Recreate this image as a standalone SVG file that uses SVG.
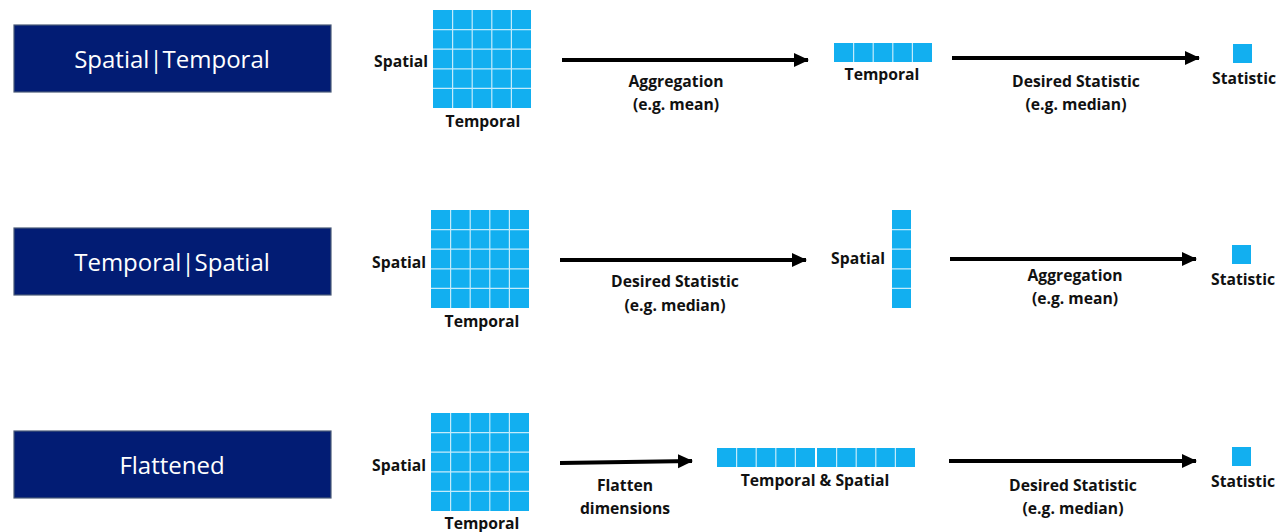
<svg xmlns="http://www.w3.org/2000/svg" xmlns:xlink="http://www.w3.org/1999/xlink" width="1276" height="532" viewBox="0 0 1276 532">
<style>
.box{fill:#021c74;stroke:#4a5a78;stroke-width:1.2}
.title{font-family:"Open Sans","Liberation Sans",sans-serif;font-size:24px;fill:#ffffff;text-anchor:middle}
.lbl{font-family:"Open Sans","Liberation Sans",sans-serif;font-weight:bold;font-size:15.7px;fill:#111111}
.c{text-anchor:middle}
.r{text-anchor:end}
.cell{fill:#12aff0}
.gl{stroke:#ffffff;stroke-width:1.2;opacity:0.75}
.arr{stroke:#000000;stroke-width:4;fill:none;marker-end:url(#ah)}
</style>
<defs>
<marker id="ah" markerUnits="userSpaceOnUse" markerWidth="16" markerHeight="16" refX="14" refY="8" orient="auto">
<path d="M0,1 L15,8 L0,15 Z" fill="#000"/>
</marker>
<g id="grid">
<rect class="cell" x="0" y="0" width="98" height="98"/>
<path class="gl" d="M19.6,0V98M39.2,0V98M58.8,0V98M78.4,0V98M0,19.6H98M0,39.2H98M0,58.8H98M0,78.4H98"/>
</g>
<g id="hstrip">
<rect class="cell" x="0" y="0" width="98" height="19"/>
<path class="gl" d="M19.6,0V19M39.2,0V19M58.8,0V19M78.4,0V19"/>
</g>
<g id="vstrip">
<rect class="cell" x="0" y="0" width="19" height="98"/>
<path class="gl" d="M0,19.6H19M0,39.2H19M0,58.8H19M0,78.4H19"/>
</g>
</defs>
<rect width="1276" height="532" fill="#ffffff"/>

<g id="connectors">
<line class="arr" x1="562" y1="60" x2="808" y2="60"/>
<line class="arr" x1="952" y1="58" x2="1199" y2="58"/>
<line class="arr" x1="560" y1="260" x2="806" y2="260"/>
<line class="arr" x1="950" y1="259" x2="1196" y2="259"/>
<line class="arr" x1="560" y1="463" x2="692" y2="461"/>
<line class="arr" x1="949" y1="461" x2="1196" y2="461"/>
</g>

<g id="row1-title">
<rect class="box" x="14" y="25" width="317" height="67"/>
<text class="title" x="172" y="68">Spatial|Temporal</text>
</g>
<g id="row1-grid">
<use xlink:href="#grid" x="433" y="10"/>
<text class="lbl r" x="428" y="67">Spatial</text>
<text class="lbl c" x="483" y="127">Temporal</text>
</g>
<g id="row1-agg-label">
<text class="lbl c" x="676" y="87">Aggregation</text>
<text class="lbl c" x="676" y="110">(e.g. mean)</text>
</g>
<g id="row1-temporal">
<use xlink:href="#hstrip" x="834" y="43"/>
<text class="lbl c" x="882" y="80">Temporal</text>
</g>
<g id="row1-stat-label">
<text class="lbl c" x="1076" y="87">Desired Statistic</text>
<text class="lbl c" x="1076" y="110">(e.g. median)</text>
</g>
<g id="row1-statistic">
<rect class="cell" x="1233" y="44" width="19" height="19"/>
<text class="lbl c" x="1244" y="84">Statistic</text>
</g>

<g id="row2-title">
<rect class="box" x="14" y="228" width="317" height="67"/>
<text class="title" x="172" y="271">Temporal|Spatial</text>
</g>
<g id="row2-grid">
<use xlink:href="#grid" x="431" y="210"/>
<text class="lbl r" x="426" y="268">Spatial</text>
<text class="lbl c" x="482" y="327">Temporal</text>
</g>
<g id="row2-stat-label">
<text class="lbl c" x="675" y="287">Desired Statistic</text>
<text class="lbl c" x="675" y="311">(e.g. median)</text>
</g>
<g id="row2-spatial">
<use xlink:href="#vstrip" x="892" y="210"/>
<text class="lbl r" x="885" y="264">Spatial</text>
</g>
<g id="row2-agg-label">
<text class="lbl c" x="1075" y="281">Aggregation</text>
<text class="lbl c" x="1075" y="304">(e.g. mean)</text>
</g>
<g id="row2-statistic">
<rect class="cell" x="1232" y="245" width="19" height="19"/>
<text class="lbl c" x="1243" y="285">Statistic</text>
</g>

<g id="row3-title">
<rect class="box" x="14" y="431" width="317" height="67"/>
<text class="title" x="172" y="474">Flattened</text>
</g>
<g id="row3-grid">
<use xlink:href="#grid" x="431" y="413"/>
<text class="lbl r" x="426" y="471">Spatial</text>
<text class="lbl c" x="482" y="529">Temporal</text>
</g>
<g id="row3-flatten-label">
<text class="lbl c" x="625" y="491">Flatten</text>
<text class="lbl c" x="625" y="514">dimensions</text>
</g>
<g id="row3-flat">
<use xlink:href="#hstrip" x="717" y="448"/>
<use xlink:href="#hstrip" x="817" y="448"/>
<text class="lbl c" x="815" y="486">Temporal &amp; Spatial</text>
</g>
<g id="row3-stat-label">
<text class="lbl c" x="1073" y="491">Desired Statistic</text>
<text class="lbl c" x="1073" y="514">(e.g. median)</text>
</g>
<g id="row3-statistic">
<rect class="cell" x="1232" y="447" width="19" height="19"/>
<text class="lbl c" x="1243" y="487">Statistic</text>
</g>
</svg>
